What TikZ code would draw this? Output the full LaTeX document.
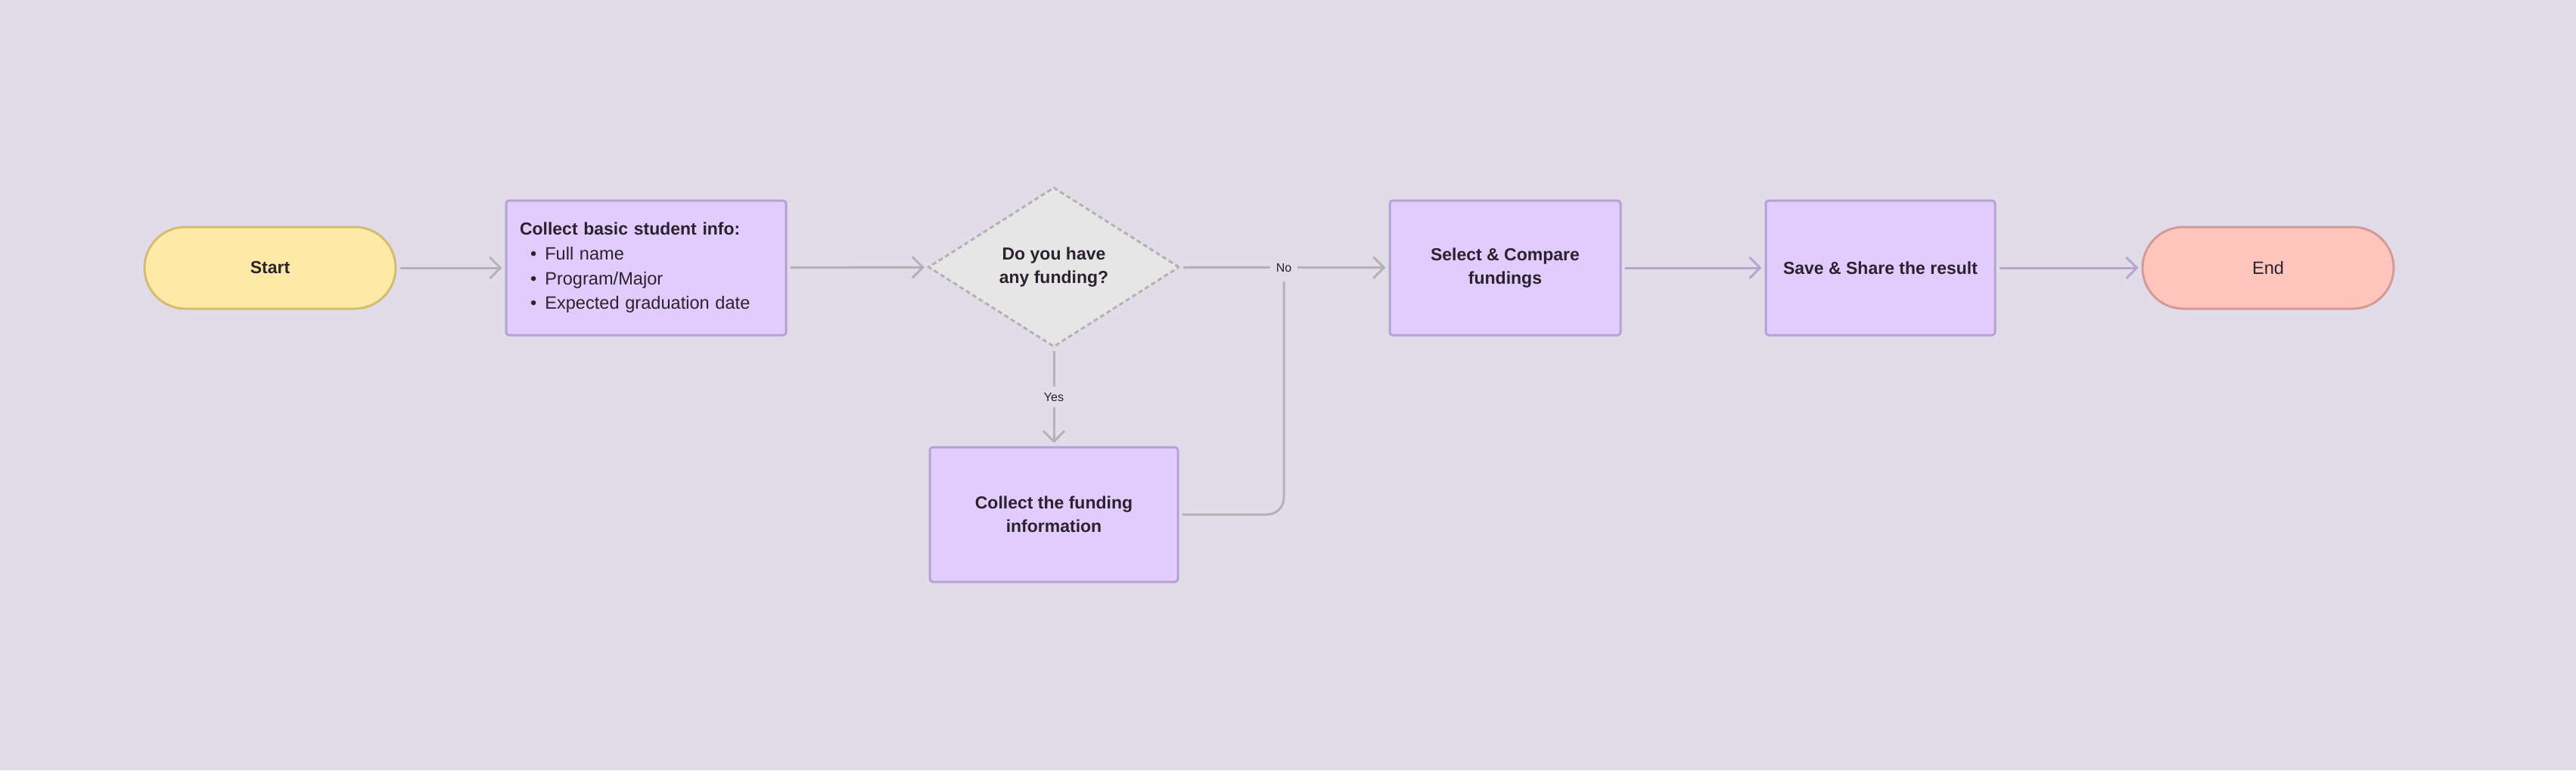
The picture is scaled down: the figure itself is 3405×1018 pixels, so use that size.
\documentclass[tikz,border=0pt]{standalone}
\usepackage{fontspec}
\setmainfont{Liberation Sans}
\usetikzlibrary{shapes.geometric,arrows.meta}

\definecolor{bgcol}{HTML}{E2DCEA}
\definecolor{txtcol}{HTML}{2B2230}
\definecolor{boxfill}{HTML}{E2CBFD}
\definecolor{boxline}{HTML}{B5A1D3}
\definecolor{startfill}{HTML}{FFE9A6}
\definecolor{startline}{HTML}{D3BD72}
\definecolor{endfill}{HTML}{FFC6BE}
\definecolor{endline}{HTML}{D39A96}
\definecolor{askfill}{HTML}{E6E6E6}
\definecolor{askline}{HTML}{B3B3B3}
\definecolor{grayline}{HTML}{B3B3B3}
\definecolor{purpleline}{HTML}{B5A6CF}

\tikzset{
    base/.style={draw, line width=1.5pt, text=txtcol, align=center, inner sep=0pt,
        font=\bfseries\fontsize{11.5}{15.5}\selectfont},
    terminal/.style={base, rectangle, rounded corners=27pt, minimum width=166pt, minimum height=54pt},
    process/.style={base, rectangle, rounded corners=2pt, fill=boxfill, draw=boxline, minimum height=89pt},
    decision/.style={base, diamond, shape aspect=1.57, fill=askfill, draw=askline,
        dash pattern=on 3pt off 2pt, minimum width=166pt, minimum height=105.5pt},
    flow/.style={line width=1.5pt, draw=grayline, -{Straight Barb[length=7pt,width=14pt]},
        shorten >=2pt, shorten <=2pt},
    tag/.style={fill=bgcol, text=txtcol, inner sep=4pt, font=\fontsize{8}{10}\selectfont}
}
\newcommand{\bulletitem}[1]{\mdseries\fontsize{11.8}{16.3}\selectfont\hspace*{7pt}\textbullet\hspace{5.5pt}#1}

\begin{document}
\begin{tikzpicture}[x=0.5pt, y=-0.5pt]
    \fill[bgcol] (0,0) rectangle (3405,1018);

    % main row
    \node[terminal, fill=startfill, draw=startline] (start) at (357,354) {Start};
    \node[process, text width=167pt, inner xsep=9pt, align=left,
        font=\bfseries\fontsize{11.5}{16.3}\selectfont] (info) at (854,354)
        {Collect basic student info:\\
         \bulletitem{Full name}\\
         \bulletitem{Program/Major}\\
         \bulletitem{Expected graduation date}};
    \node[decision] (ask) at (1393,353) {Do you have\\any funding?};
    \node[process, minimum width=152.5pt] (select) at (1989.5,354) {Select \& Compare\\fundings};
    \node[process, minimum width=151.5pt] (save) at (2485.5,354) {Save \& Share the result};
    \node[terminal, fill=endfill, draw=endline, font=\fontsize{11.8}{15.5}\selectfont] (finish) at (2998,354) {End};

    % yes branch
    \node[process, minimum width=164pt] (funding) at (1393,680) {Collect the funding\\information};

    \draw[flow] (start) -- (info);
    \draw[flow] (info) -- (ask);
    \draw[flow] (ask) -- (select);
    \node[tag] (no) at (1697,354) {No};
    \draw[flow] (ask) -- (funding) node[tag, midway] (yes) {Yes};
    \draw[flow, -, rounded corners=11pt] (funding) -| (no);
    \draw[flow, draw=purpleline] (select) -- (save);
    \draw[flow, draw=purpleline] (save) -- (finish);
\end{tikzpicture}
\end{document}
